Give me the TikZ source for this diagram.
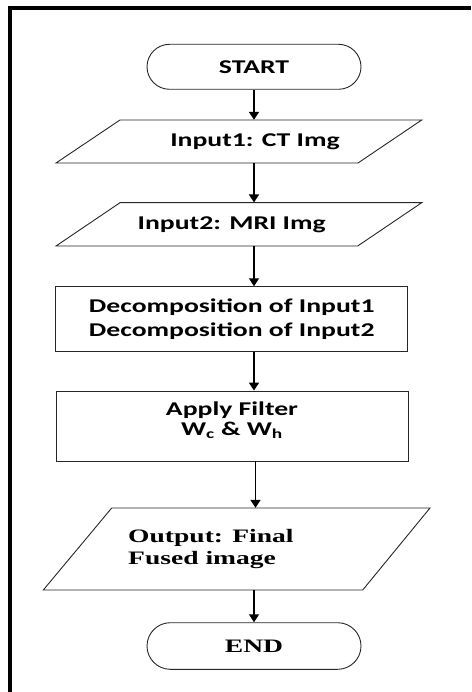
\documentclass[tikz,border=0pt]{standalone}
\usepackage{fontspec}
\usetikzlibrary{shapes.misc,arrows.meta}
\newfontfamily\calfont[FakeStretch=1.42]{Carlito}
\newfontfamily\timesfont[FakeStretch=1.45]{Liberation Serif}
\begin{document}
\begin{tikzpicture}[x=1pt,y=-1pt,
  shp/.style={draw=black!85, line width=0.9pt},
  term/.style={shp, rounded rectangle, minimum width=214pt, minimum height=45pt, inner sep=0pt},
  procbox/.style={shp, rectangle, minimum width=352pt, inner sep=0pt},
  txt/.style={inner sep=0pt, align=center},
  calf/.style={font=\calfont\bfseries\fontsize{19.5}{24}\selectfont},
  timf/.style={font=\timesfont\bfseries\fontsize{19}{21.5}\selectfont},
  arr/.style={line width=1.6pt, -{Triangle[length=8pt,width=10pt]}}
]
\useasboundingbox (0,0) rectangle (471,692);
% frame
\draw[line width=4pt] (10,692) -- (10,8) -- (471,8);

% START
\node[term, calf] (start) at (254,66.8) {START};

% Input1 parallelogram
\draw[shp] (120,120) -- (421.7,120) -- (358,163) -- (56,163) -- cycle;
\node[txt, calf, minimum height=43pt] (in1) at (255,141.5) {Input1: CT Img};

% Input2 parallelogram
\draw[shp] (120,202.7) -- (421.7,202.7) -- (357.7,246) -- (56,246) -- cycle;
\node[txt, calf, minimum height=43.3pt] (in2) at (231.7,224.3) {Input2: MRI Img};

% Decomposition
\node[procbox, calf, minimum height=65pt, align=center] (dec) at (231.7,319.2)
  {Decomposition of Input1\\Decomposition of Input2};

% Apply filter
\node[procbox, minimum height=70pt] (app) at (232,426) {};
\node[txt, font=\calfont\bfseries\fontsize{19.5}{20}\selectfont] (appt) at (232,420)
  {Apply Filter\\W\textsubscript{c} \& W\textsubscript{h}};

% Output parallelogram
\draw[shp] (111.7,508) -- (430,508) -- (362.7,590) -- (43.3,590) -- cycle;
\node[inner sep=0pt, align=left, timf, anchor=west, minimum height=82pt] (out) at (128,549)
  {Output: Final\\Fused image};

% END
\node[term, timf, minimum height=46.6pt] (end) at (254,646) {END};

% connectors
\draw[arr] (start.south) -- (start.south |- in1.north);
\draw[arr] (in1.south -| start) -- (in2.north -| start);
\draw[arr] (in2.south -| start) -- (dec.north -| start);
\draw[arr] (dec.south -| start) -- (app.north -| start);
\draw[arr] ([xshift=1.5pt]app.south -| start) -- ([xshift=1.5pt]out.north -| start);
\draw[arr] (out.south -| start) -- (end.north);
\end{tikzpicture}
\end{document}
